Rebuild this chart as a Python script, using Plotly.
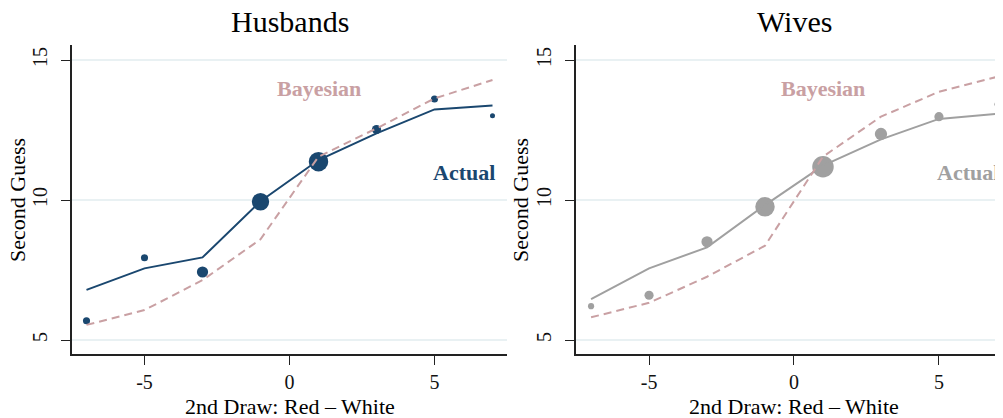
import plotly.graph_objects as go
import numpy as np

# ---------------- data ----------------
draw_diff = [-7, -5, -3, -1, 1, 3, 5, 7]

husb_actual_fit = [6.79, 7.56, 7.95, 9.96, 11.43, 12.38, 13.24, 13.38]
husb_actual_pts = [5.69, 7.94, 7.43, 9.94, 11.37, 12.52, 13.61, 13.01]
husb_counts = [12, 12, 30, 72, 90, 20, 12, 6]
husb_bayes = [5.54, 6.07, 7.14, 8.60, 11.55, 12.56, 13.63, 14.29]

wife_actual_fit = [6.46, 7.56, 8.31, 9.82, 11.23, 12.17, 12.90, 13.08]
wife_actual_pts = [6.21, 6.60, 8.51, 9.76, 11.19, 12.36, 12.98, 13.42]
wife_counts = [9, 20, 30, 90, 110, 36, 20, 6]
wife_bayes = [5.81, 6.33, 7.26, 8.37, 11.55, 12.98, 13.87, 14.40]

x_tickvals = [-5, 0, 5]
x_ticktext = ["-5", "0", "5"]
y_tickvals = [5, 10, 15]
y_ticktext = ["5", "10", "15"]

panel_titles = ["Husbands", "Wives"]
x_title = "2nd Draw: Red \u2013 White"
y_title = "Second Guess"

# ---------------- style ----------------
NAVY = "#1a476f"
GRAY = "#a0a0a0"
ROSE = "#c9a0a3"
GRID = "#e9f1f3"
FONT = "Liberation Serif"
SIZE_K = 2.05  # marker diameter per sqrt(count)

OFF = 8  # page body margin
W, H = 1003 - OFF, 418 - OFF
ML, MR, MT, MB = 72 - OFF, 0, 45 - OFF, 64
PW = W - ML - MR
PH = H - MT - MB


def px2paper_x(px):
    return (px - OFF - ML) / PW


def px2paper_y(py):
    return (H - MB - (py - OFF)) / PH


fig = go.Figure()

panels = [
    (husb_actual_pts, husb_counts, husb_actual_fit, husb_bayes, NAVY, "x", "y"),
    (wife_actual_pts, wife_counts, wife_actual_fit, wife_bayes, GRAY, "x2", "y2"),
]

for pts, cnt, fit, bay, col, xa, ya in panels:
    fig.add_trace(go.Scatter(
        x=draw_diff, y=pts, mode="markers", xaxis=xa, yaxis=ya,
        marker=dict(size=[SIZE_K * np.sqrt(c) for c in cnt], color=col,
                    opacity=1, line=dict(width=0)),
        showlegend=False, hoverinfo="skip"))
    fig.add_trace(go.Scatter(
        x=draw_diff, y=fit, mode="lines", xaxis=xa, yaxis=ya,
        line=dict(color=col, width=2), showlegend=False, hoverinfo="skip"))
    fig.add_trace(go.Scatter(
        x=draw_diff, y=bay, mode="lines", xaxis=xa, yaxis=ya,
        line=dict(color=ROSE, width=2, dash="8px,5px"),
        showlegend=False, hoverinfo="skip"))

left_dom = [0, px2paper_x(507)]
right_dom = [px2paper_x(576), 1]

xcommon = dict(tickmode="array", tickvals=x_tickvals, ticktext=x_ticktext,
               showgrid=False, zeroline=False, showline=True, linecolor="#222",
               linewidth=1.5, ticks="outside", ticklen=9, tickwidth=1.2,
               tickcolor="#222", tickfont=dict(family=FONT, size=20, color="#111"),
               mirror=False)
ycommon = dict(tickmode="array", tickvals=y_tickvals, ticktext=y_ticktext,
               range=[4.5, 15.54], showgrid=True, gridcolor=GRID, gridwidth=1.5,
               zeroline=False, showline=True, linecolor="#222", linewidth=1.5,
               ticks="outside", ticklen=9, tickwidth=1.2, tickcolor="#222",
               tickangle=-90, ticklabelstandoff=6,
               tickfont=dict(family=FONT, size=20, color="#111"))

fig.update_layout(
    width=W, height=H, autosize=False,
    margin=dict(l=ML, r=MR, t=MT, b=MB),
    paper_bgcolor="white", plot_bgcolor="white",
    xaxis=dict(domain=left_dom, range=[-7.5, 7.5], anchor="y", **xcommon),
    yaxis=dict(domain=[0, 1], anchor="x", **ycommon),
    xaxis2=dict(domain=right_dom, range=[-7.52, 7.21], anchor="y2", **xcommon),
    yaxis2=dict(domain=[0, 1], anchor="x2", **ycommon),
)

ann = []
# panel titles
for title, cx in zip(panel_titles, [289.5, 794]):
    ann.append(dict(text=title, xref="paper", yref="paper", x=px2paper_x(cx),
                    y=px2paper_y(21.5), xanchor="center", yanchor="middle",
                    showarrow=False, font=dict(family=FONT, size=30, color="#000")))
# axis titles
for cx in [289.5, 794]:
    ann.append(dict(text=x_title, xref="paper", yref="paper", x=px2paper_x(cx),
                    y=px2paper_y(406), xanchor="center", yanchor="middle",
                    showarrow=False, font=dict(family=FONT, size=22, color="#000")))
for cx in [18, 521]:
    ann.append(dict(text=y_title, xref="paper", yref="paper", x=px2paper_x(cx),
                    y=px2paper_y(200), xanchor="center", yanchor="middle",
                    textangle=-90, showarrow=False,
                    font=dict(family=FONT, size=22, color="#000")))
# in-plot labels
for xr, yr, col in [("x", "y", NAVY), ("x2", "y2", GRAY)]:
    ann.append(dict(text="<b>Bayesian</b>", xref=xr, yref=yr, x=1, y=14,
                    showarrow=False, font=dict(family=FONT, size=22, color=ROSE)))
    ann.append(dict(text="<b>Actual</b>", xref=xr, yref=yr, x=6, y=11,
                    showarrow=False, font=dict(family=FONT, size=22, color=col)))

fig.update_layout(annotations=ann)
fig.write_html("out.html")
